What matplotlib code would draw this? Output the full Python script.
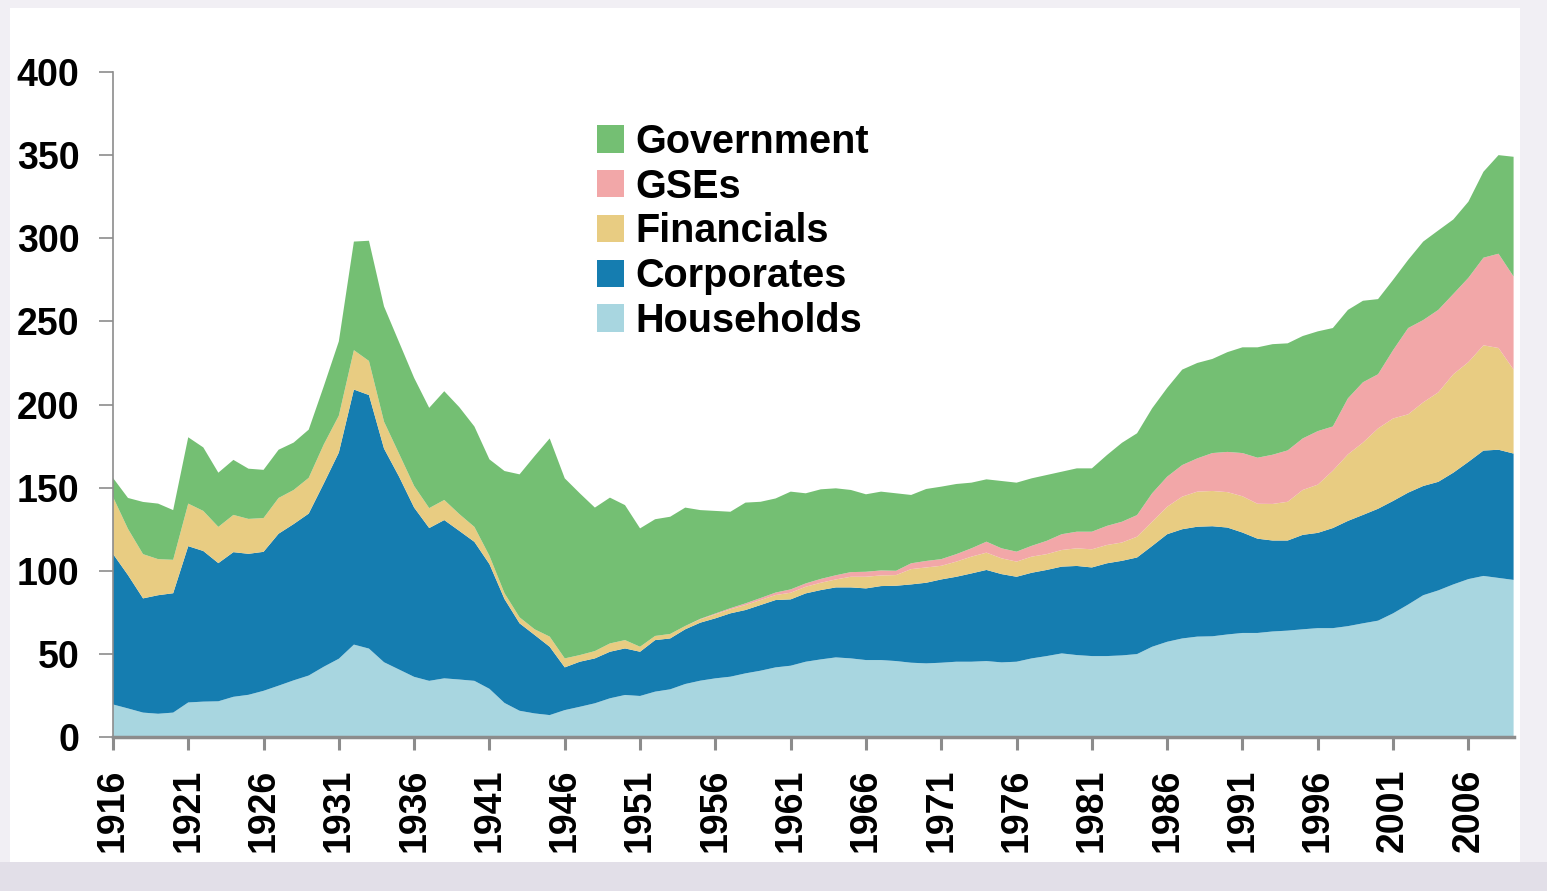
import numpy as np
import matplotlib.pyplot as plt
from matplotlib.patches import Patch, Rectangle

years = np.arange(1916, 2010)

# cumulative levels (top edge of each band)
households_top = np.array([
    19.6, 17.2, 14.7, 14.0, 14.7, 20.8, 21.3, 21.5, 24.2, 25.4,
    27.8, 30.9, 34.1, 37.0, 42.3, 47.1, 55.6, 53.2, 45.0, 40.6,
    36.2, 33.8, 35.3, 34.6, 33.8, 29.0, 20.5, 15.8, 14.2, 13.2,
    16.2, 18.2, 20.3, 23.3, 25.3, 24.7, 27.3, 28.7, 31.9, 33.9,
    35.3, 36.3, 38.3, 39.9, 41.9, 42.9, 45.3, 46.7, 47.9, 47.3,
    46.3, 46.3, 45.7, 44.7, 44.3, 44.7, 45.3, 45.3, 45.7, 44.9,
    45.3, 47.3, 48.7, 50.3, 49.3, 48.7, 48.7, 49.1, 49.9, 54.3,
    57.3, 59.3, 60.4, 60.6, 61.7, 62.6, 62.6, 63.5, 64.0, 64.8,
    65.5, 65.5, 66.7, 68.4, 70.0, 74.4, 79.7, 85.3, 88.2, 91.8,
    95.0, 96.9, 95.7, 94.5])

corporates_top = np.array([
    110.2, 97.4, 83.4, 85.3, 86.5, 114.8, 111.9, 104.6, 111.2, 110.2,
    111.4, 122.3, 128.1, 134.4, 152.5, 171.1, 209.0, 205.7, 173.5, 156.6,
    138.0, 125.7, 130.5, 124.0, 117.4, 104.0, 83.0, 68.4, 61.4, 54.3,
    41.9, 45.3, 47.3, 51.3, 53.3, 51.3, 58.3, 59.3, 64.8, 68.8,
    71.4, 74.4, 76.4, 79.4, 82.4, 82.8, 86.4, 88.4, 90.0, 90.0,
    89.4, 90.8, 91.0, 91.8, 92.8, 94.8, 96.4, 98.4, 100.5, 98.0,
    96.4, 98.8, 100.5, 102.5, 102.9, 102.0, 104.5, 106.0, 108.0, 114.9,
    122.0, 125.0, 126.5, 126.8, 126.0, 123.0, 119.3, 118.2, 118.2, 121.6,
    122.8, 125.7, 130.0, 133.6, 137.3, 142.0, 147.0, 151.0, 153.5, 159.0,
    165.5, 172.3, 172.8, 170.5])

financials_top = np.array([
    144.5, 125.2, 110.0, 107.0, 106.6, 140.4, 136.0, 126.4, 133.6, 131.2,
    131.7, 143.8, 148.6, 155.9, 176.0, 193.3, 232.7, 226.2, 189.7, 170.4,
    151.0, 137.7, 142.6, 134.1, 126.4, 109.0, 86.5, 72.0, 64.8, 60.4,
    47.3, 49.3, 51.7, 56.3, 58.3, 54.3, 60.8, 62.0, 66.8, 70.8,
    73.8, 76.8, 79.4, 82.4, 85.4, 86.8, 90.4, 92.8, 94.8, 96.4,
    96.4, 97.2, 97.4, 101.0, 102.0, 103.0, 105.5, 108.5, 110.9, 107.5,
    105.5, 108.5, 110.0, 112.5, 113.5, 112.9, 115.5, 117.0, 120.5, 129.5,
    138.5, 144.6, 147.6, 148.0, 147.3, 144.8, 140.3, 140.2, 141.5, 148.6,
    151.8, 160.2, 170.0, 177.1, 185.6, 191.6, 194.1, 201.3, 207.3, 218.2,
    225.5, 235.6, 234.0, 221.0])

gses_top = np.array([
    144.5, 125.2, 110.0, 107.0, 106.6, 140.4, 136.0, 126.4, 133.6, 131.2,
    131.7, 143.8, 148.6, 155.9, 176.0, 193.3, 232.7, 226.2, 189.7, 170.4,
    151.0, 137.7, 142.6, 134.1, 126.4, 109.0, 86.5, 72.0, 64.8, 60.4,
    47.3, 49.3, 51.7, 56.3, 58.3, 54.3, 60.8, 62.0, 66.8, 71.1,
    74.3, 77.5, 80.4, 83.6, 86.9, 88.8, 92.4, 95.1, 97.3, 99.2,
    99.4, 100.2, 100.0, 104.5, 105.9, 107.0, 110.0, 113.5, 117.5, 113.5,
    111.5, 115.0, 118.0, 122.0, 123.5, 123.5, 127.0, 129.5, 133.5, 146.6,
    156.6, 163.6, 167.6, 170.8, 171.5, 170.8, 168.0, 169.8, 172.4, 179.6,
    184.0, 186.8, 203.7, 213.4, 218.2, 232.7, 246.0, 250.8, 256.9, 266.5,
    276.2, 288.3, 290.7, 277.0])

total_top = np.array([
    155.9, 143.8, 141.4, 140.4, 136.5, 180.3, 174.2, 159.0, 166.7, 161.4,
    160.7, 172.8, 177.1, 184.9, 211.0, 238.0, 298.0, 298.5, 259.0, 237.5,
    216.0, 198.0, 208.0, 198.4, 186.8, 167.0, 160.0, 158.0, 169.0, 179.6,
    155.6, 146.6, 138.0, 144.0, 139.5, 125.5, 131.0, 132.5, 138.0, 136.5,
    136.0, 135.5, 141.0, 141.5, 143.5, 147.6, 146.6, 149.0, 149.6, 148.6,
    146.0, 147.6, 146.6, 145.6, 149.2, 150.6, 152.2, 153.0, 155.0, 154.0,
    153.0, 155.6, 157.6, 159.6, 161.6, 161.6, 169.6, 177.0, 182.7, 197.7,
    210.0, 221.0, 225.0, 227.4, 231.5, 234.4, 234.4, 236.3, 236.8, 241.2,
    244.0, 246.0, 256.9, 262.4, 263.4, 275.0, 287.0, 298.0, 304.7, 311.3,
    322.0, 340.0, 350.0, 349.0])

households = households_top
corporates = corporates_top - households_top
financials = financials_top - corporates_top
gses = gses_top - financials_top
government = total_top - gses_top

labels = ["Households", "Corporates", "Financials", "GSEs", "Government"]
colors = ["#A8D6E0", "#157DB0", "#E8CC82", "#F2A7A8", "#74BF73"]

plt.rcParams['font.family'] = ['Liberation Sans', 'DejaVu Sans']
plt.rcParams['font.weight'] = 'bold'

fig = plt.figure(figsize=(15.47, 8.91), dpi=100)
fig.patch.set_facecolor("#F1EFF4")
fig.patches.append(Rectangle((0, 0), 1, 29 / 891, transform=fig.transFigure,
                             facecolor="#E2DFE8", edgecolor="none", zorder=-10))
fig.patches.append(Rectangle((10 / 1547, 29 / 891), 1510 / 1547, 854 / 891,
                             transform=fig.transFigure, facecolor="white",
                             edgecolor="none", zorder=-10))

ax = fig.add_axes([0.0730, 0.1728, 0.9054, 0.7464])
ax.set_facecolor("none")
ax.stackplot(years, households, corporates, financials, gses, government,
             colors=colors, linewidth=0)

ax.set_xlim(1916, 2009)
ax.set_ylim(0, 400)
ax.set_yticks(np.arange(0, 401, 50))
ax.set_xticks(np.arange(1916, 2009, 5))
ax.set_xticklabels([str(y) for y in range(1916, 2009, 5)], rotation=90)

for s in ["top", "right"]:
    ax.spines[s].set_visible(False)
ax.spines["left"].set_color("#8C8C8C")
ax.spines["left"].set_linewidth(1.2)
ax.spines["bottom"].set_color("#8C8C8C")
ax.spines["bottom"].set_linewidth(2.5)
ax.tick_params(axis="y", length=10, width=1.2, color="#8C8C8C", pad=14,
               labelsize=27)
ax.tick_params(axis="x", length=9, width=2.2, color="#8C8C8C", pad=14,
               labelsize=27)
for lab in ax.get_xticklabels() + ax.get_yticklabels():
    lab.set_fontweight("bold")

handles = [Patch(facecolor=c, edgecolor="none") for c in colors][::-1]
ax.legend(handles, labels[::-1], loc="upper left",
          bbox_to_anchor=(0.386, 0.862), bbox_transform=fig.transFigure,
          frameon=False, prop={"weight": "bold", "size": 28.5},
          handlelength=0.68, handleheight=0.68, handletextpad=0.28,
          labelspacing=0.17, borderpad=0, borderaxespad=0)

fig.savefig("out.png", dpi=100, facecolor=fig.get_facecolor())
